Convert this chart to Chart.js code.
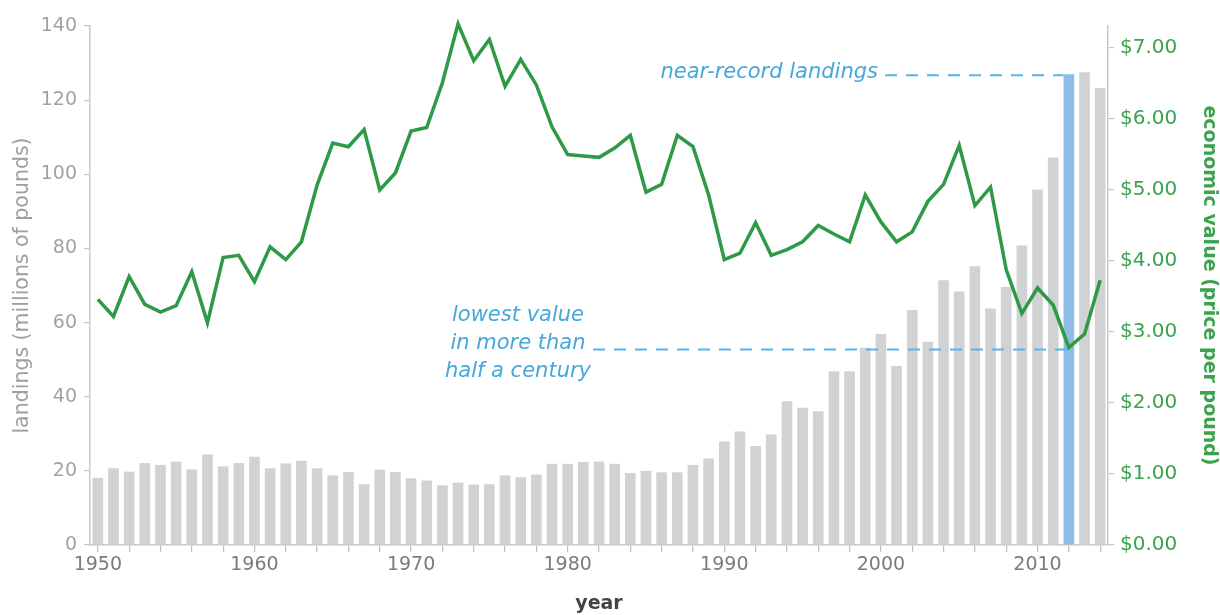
<!DOCTYPE html>
<html>
<head>
<meta charset="utf-8">
<script src="https://cdn.jsdelivr.net/npm/chart.js@4.4.1/dist/chart.umd.min.js"></script>
<style>
  html, body { margin: 0; padding: 0; background: #ffffff; }
  #wrap { width: 1220px; height: 615px; }
</style>
</head>
<body>
<div id="wrap"><canvas id="c" width="1220" height="615"></canvas></div>
<script>
// ---- data ----
const years = [1950,1951,1952,1953,1954,1955,1956,1957,1958,1959,
               1960,1961,1962,1963,1964,1965,1966,1967,1968,1969,
               1970,1971,1972,1973,1974,1975,1976,1977,1978,1979,
               1980,1981,1982,1983,1984,1985,1986,1987,1988,1989,
               1990,1991,1992,1993,1994,1995,1996,1997,1998,1999,
               2000,2001,2002,2003,2004,2005,2006,2007,2008,2009,
               2010,2011,2012,2013,2014];
// landings (millions of pounds)
const landings = [18.1,20.7,19.8,22.1,21.6,22.5,20.4,24.4,21.2,22.1,
                  23.8,20.7,22.0,22.7,20.7,18.8,19.7,16.4,20.3,19.7,
                  18.0,17.4,16.1,16.8,16.3,16.4,18.8,18.3,19.0,21.9,
                  21.9,22.4,22.5,21.9,19.4,20.0,19.6,19.6,21.6,23.3,
                  27.9,30.6,26.7,29.8,38.8,37.0,36.1,46.9,46.9,53.2,
                  56.9,48.3,63.4,54.8,71.4,68.4,75.2,63.8,69.6,80.8,
                  95.9,104.5,127.0,127.5,123.3];
// economic value (price per pound, $)
const price = [3.46,3.22,3.78,3.39,3.28,3.37,3.85,3.13,4.05,4.08,
               3.71,4.20,4.02,4.27,5.07,5.66,5.61,5.85,5.00,5.24,
               5.83,5.88,6.51,7.34,6.82,7.12,6.46,6.84,6.48,5.89,
               5.50,5.48,5.46,5.59,5.77,4.97,5.08,5.77,5.61,4.93,
               4.02,4.11,4.54,4.08,4.16,4.27,4.50,4.38,4.27,4.93,
               4.55,4.27,4.41,4.84,5.08,5.63,4.78,5.04,3.88,3.26,
               3.62,3.38,2.78,2.97,3.73];
const highlightYear = 2012;
const leftTicks = [0, 20, 40, 60, 80, 100, 120, 140];
const rightTicks = [0, 1, 2, 3, 4, 5, 6, 7];
const labelYears = [1950, 1960, 1970, 1980, 1990, 2000, 2010];
const noteHigh = 'near-record landings';
const noteLow = ['lowest value', 'in more than', 'half a century'];

// ---- styles ----
const FONT = '"DejaVu Sans", Verdana, sans-serif';
const GREY_BAR = '#d1d2d4';
const BLUE_BAR = '#8dbde6';
const GREEN = '#2f9a45';
const GREEN_TXT = '#3ba24d';
const NOTE_BLUE = '#47a7da';
const DASH_BLUE = '#5ab4e5';
const AXIS_GREY = '#c9c9c9';

const hiIdx = years.indexOf(highlightYear);

const annotations = {
  id: 'annotations',
  afterDatasetsDraw(chart) {
    const ctx = chart.ctx;
    const bar = chart.getDatasetMeta(0).data[hiIdx];
    const pt = chart.getDatasetMeta(1).data[hiIdx];
    ctx.save();
    // dashed leader lines
    ctx.strokeStyle = DASH_BLUE;
    ctx.lineWidth = 2;
    ctx.setLineDash([12, 9]);
    ctx.beginPath();
    ctx.moveTo(885, bar.y + 1);
    ctx.lineTo(bar.x - bar.width / 2, bar.y + 1);
    ctx.stroke();
    ctx.beginPath();
    ctx.moveTo(593, pt.y + 2);
    ctx.lineTo(pt.x, pt.y + 2);
    ctx.stroke();
    ctx.setLineDash([]);
    // texts
    ctx.fillStyle = NOTE_BLUE;
    ctx.font = 'italic 21px ' + FONT;
    ctx.textBaseline = 'middle';
    ctx.textAlign = 'right';
    ctx.fillText(noteHigh, 878, bar.y - 2);
    ctx.textAlign = 'center';
    noteLow.forEach((t, k) => ctx.fillText(t, 518, 316 + k * 28));
    ctx.restore();
  }
};

new Chart(document.getElementById('c'), {
  data: {
    labels: years,
    datasets: [
      {
        type: 'bar',
        label: 'landings',
        data: landings,
        yAxisID: 'y',
        backgroundColor: years.map(y => y === highlightYear ? BLUE_BAR : GREY_BAR),
        borderWidth: 0,
        categoryPercentage: 1.0,
        barPercentage: 0.68,
        order: 2
      },
      {
        type: 'line',
        label: 'economic value',
        data: price,
        yAxisID: 'y1',
        borderColor: GREEN,
        borderWidth: 3.5,
        pointRadius: 0,
        tension: 0,
        fill: false,
        clip: false,
        order: 1
      }
    ]
  },
  options: {
    responsive: false,
    animation: false,
    devicePixelRatio: 1,
    layout: { padding: { top: 26, left: 0, right: 0, bottom: 0 } },
    plugins: { legend: { display: false }, tooltip: { enabled: false } },
    scales: {
      x: {
        type: 'category',
        offset: true,
        grid: {
          offset: false,
          drawOnChartArea: false,
          drawTicks: true,
          tickLength: 7,
          lineWidth: 1.2,
          color: (c) => (c.index % 2 === 0 ? '#bdbdbd' : 'rgba(0,0,0,0)')
        },
        border: { display: true, color: AXIS_GREY, width: 1.5 },
        ticks: {
          autoSkip: false,
          maxRotation: 0,
          padding: 2,
          color: '#7b7b7b',
          font: { family: FONT, size: 19 },
          callback: function (v, i) {
            const yr = years[i];
            return labelYears.includes(yr) ? String(yr) : '';
          }
        },
        title: {
          display: true,
          text: 'year',
          color: '#444444',
          font: { family: FONT, size: 19, weight: 'bold' },
          padding: { top: 0, bottom: 0 }
        },
        afterFit: (s) => { s.height = 70; }
      },
      y: {
        position: 'left',
        min: 0,
        max: 140,
        afterBuildTicks: (s) => { s.ticks = leftTicks.map(v => ({ value: v })); },
        grid: { drawOnChartArea: false, tickLength: 6, color: '#c4c4c4', lineWidth: 1.2 },
        border: { display: true, color: AXIS_GREY, width: 1.5 },
        ticks: {
          padding: 7,
          color: '#a2a2a2',
          font: { family: FONT, size: 19 }
        },
        title: {
          display: true,
          text: 'landings (millions of pounds)',
          color: '#a0a0a0',
          font: { family: FONT, size: 20.5 },
          padding: { top: 10, bottom: 0 }
        },
        afterFit: (s) => { s.width = 90; }
      },
      y1: {
        position: 'right',
        min: 0,
        max: 7.31,
        afterBuildTicks: (s) => { s.ticks = rightTicks.map(v => ({ value: v })); },
        grid: { drawOnChartArea: false, tickLength: 6, color: '#c4c4c4', lineWidth: 1.2 },
        border: { display: true, color: AXIS_GREY, width: 1.5 },
        ticks: {
          padding: 6,
          color: GREEN_TXT,
          font: { family: FONT, size: 20 },
          callback: (v) => '$' + Number(v).toFixed(2)
        },
        title: {
          display: true,
          text: 'economic value (price per pound)',
          color: GREEN_TXT,
          font: { family: FONT, size: 19, weight: 'bold' },
          padding: { top: 0, bottom: 2 }
        },
        afterFit: (s) => { s.width = 112; }
      }
    }
  },
  plugins: [annotations]
});
</script>
</body>
</html>
